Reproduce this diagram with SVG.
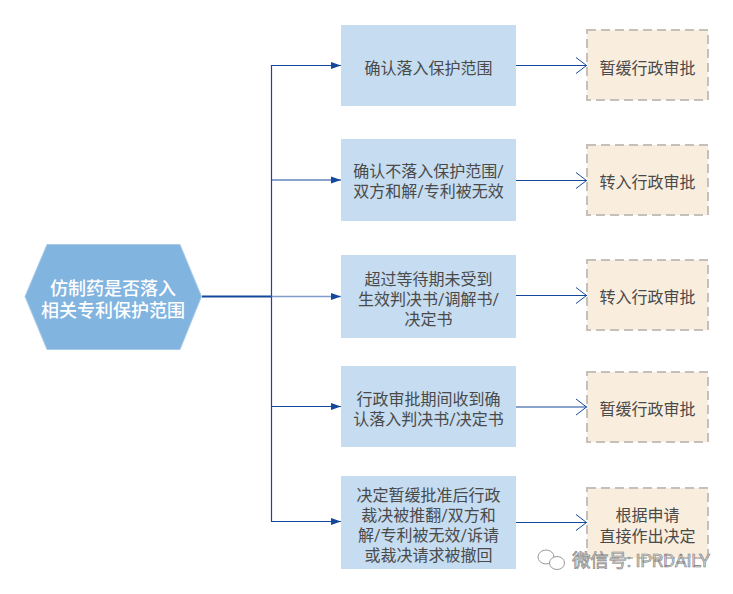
<svg xmlns="http://www.w3.org/2000/svg" width="733" height="594" viewBox="0 0 733 594">
<defs>
<style>
text{font-family:Roboto,"Noto Sans CJK SC",sans-serif;text-anchor:middle;dominant-baseline:central}
.b{fill:#c6dcf0}
.o{fill:#f9eddd;stroke:#c4c0bb;stroke-width:2;stroke-dasharray:9 5}
.t{font-size:16px;fill:#4a4a4a}
.c{fill:none;stroke:#14489c;stroke-width:1.2}
.h{fill:#fff;font-size:18px;font-weight:500}
.w{fill:#d4d4d4;stroke:#808080;stroke-width:.6;font-size:18.500px}
.i{fill:#fff;stroke:#9a9a9a;stroke-width:1}
</style>
<marker id="fill" markerWidth="11" markerHeight="8" refX="10" refY="4" orient="auto" markerUnits="userSpaceOnUse"><path d="M0 .5L10 4L0 7.500z" fill="#14489c"/></marker>
<marker id="open" markerWidth="13" markerHeight="18" refX="12" refY="9" orient="auto" markerUnits="userSpaceOnUse"><path d="M1 1L11.500 9L1 17" fill="none" stroke="#14489c" stroke-width="1"/></marker>
</defs>
<rect width="733" height="594" fill="#fff"/>
<g id="connectors">
<path class="c" style="stroke-width:2" d="M202 296.500H271.500"/>
<path class="c" marker-end="url(#fill)" d="M271.500 296.500V65.500H341"/>
<path class="c" marker-end="url(#fill)" d="M271.500 180H341"/>
<path class="c" marker-end="url(#fill)" style="stroke:#7f9ccb;stroke-width:1.500" d="M271.500 296.500H341"/>
<path class="c" marker-end="url(#fill)" d="M271.500 296.500V406.500H341"/>
<path class="c" marker-end="url(#fill)" d="M271.500 406.500V521.500H341"/>
<path class="c" marker-end="url(#open)" d="M516 65.500H587"/>
<path class="c" marker-end="url(#open)" d="M516 180.500H587"/>
<path class="c" marker-end="url(#open)" d="M516 295.500H587"/>
<path class="c" marker-end="url(#open)" d="M516 407H587"/>
<path class="c" marker-end="url(#open)" d="M516 522.500H587"/>
</g>
<g id="start"><path d="M47 244.500H180L201.500 296.500L180 349.500H47L25 296.500Z" fill="#82b4e0" stroke="#a9cbe9"/><text class="h" x="113" y="288">仿制药是否落入</text><text class="h" x="113" y="310">相关专利保护范围</text></g>
<g id="a1"><rect class="b" x="341" y="25" width="175" height="81"/><text class="t" x="428.500" y="68">确认落入保护范围</text></g>
<g id="a2"><rect class="b" x="341" y="139" width="175" height="82"/><text class="t" x="428.500" y="171">确认不落入保护范围/</text><text class="t" x="428.500" y="191">双方和解/专利被无效</text></g>
<g id="a3"><rect class="b" x="341" y="255" width="175" height="83"/><text class="t" x="428.500" y="279">超过等待期未受到</text><text class="t" x="428.500" y="299">生效判决书/调解书/</text><text class="t" x="428.500" y="319">决定书</text></g>
<g id="a4"><rect class="b" x="341" y="366" width="175" height="81"/><text class="t" x="428.500" y="399">行政审批期间收到确</text><text class="t" x="428.500" y="419">认落入判决书/决定书</text></g>
<g id="a5"><rect class="b" x="341" y="476" width="175" height="93"/><text class="t" x="428.500" y="495">决定暂缓批准后行政</text><text class="t" x="428.500" y="515">裁决被推翻/双方和</text><text class="t" x="428.500" y="535">解/专利被无效/诉请</text><text class="t" x="428.500" y="555">或裁决请求被撤回</text></g>
<g id="r1"><rect class="o" x="587" y="30" width="121" height="70"/><text class="t" x="647.500" y="68">暂缓行政审批</text></g>
<g id="r2"><rect class="o" x="587" y="145" width="121" height="70"/><text class="t" x="647.500" y="182">转入行政审批</text></g>
<g id="r3"><rect class="o" x="587" y="260" width="121" height="70"/><text class="t" x="647.500" y="297">转入行政审批</text></g>
<g id="r4"><rect class="o" x="587" y="372" width="121" height="70"/><text class="t" x="647.500" y="409">暂缓行政审批</text></g>
<g id="r5"><rect class="o" x="587" y="488" width="121" height="70"/><text class="t" x="647.500" y="515">根据申请</text><text class="t" x="647.500" y="536">直接作出决定</text></g>
<g id="watermark">
<ellipse cx="546" cy="557" rx="8" ry="7" class="i"/>
<ellipse cx="557" cy="563" rx="7.500" ry="6.500" class="i"/>
<text class="w" x="641" y="561" textLength="138">微信号: IPRDAILY</text>
</g>
</svg>
